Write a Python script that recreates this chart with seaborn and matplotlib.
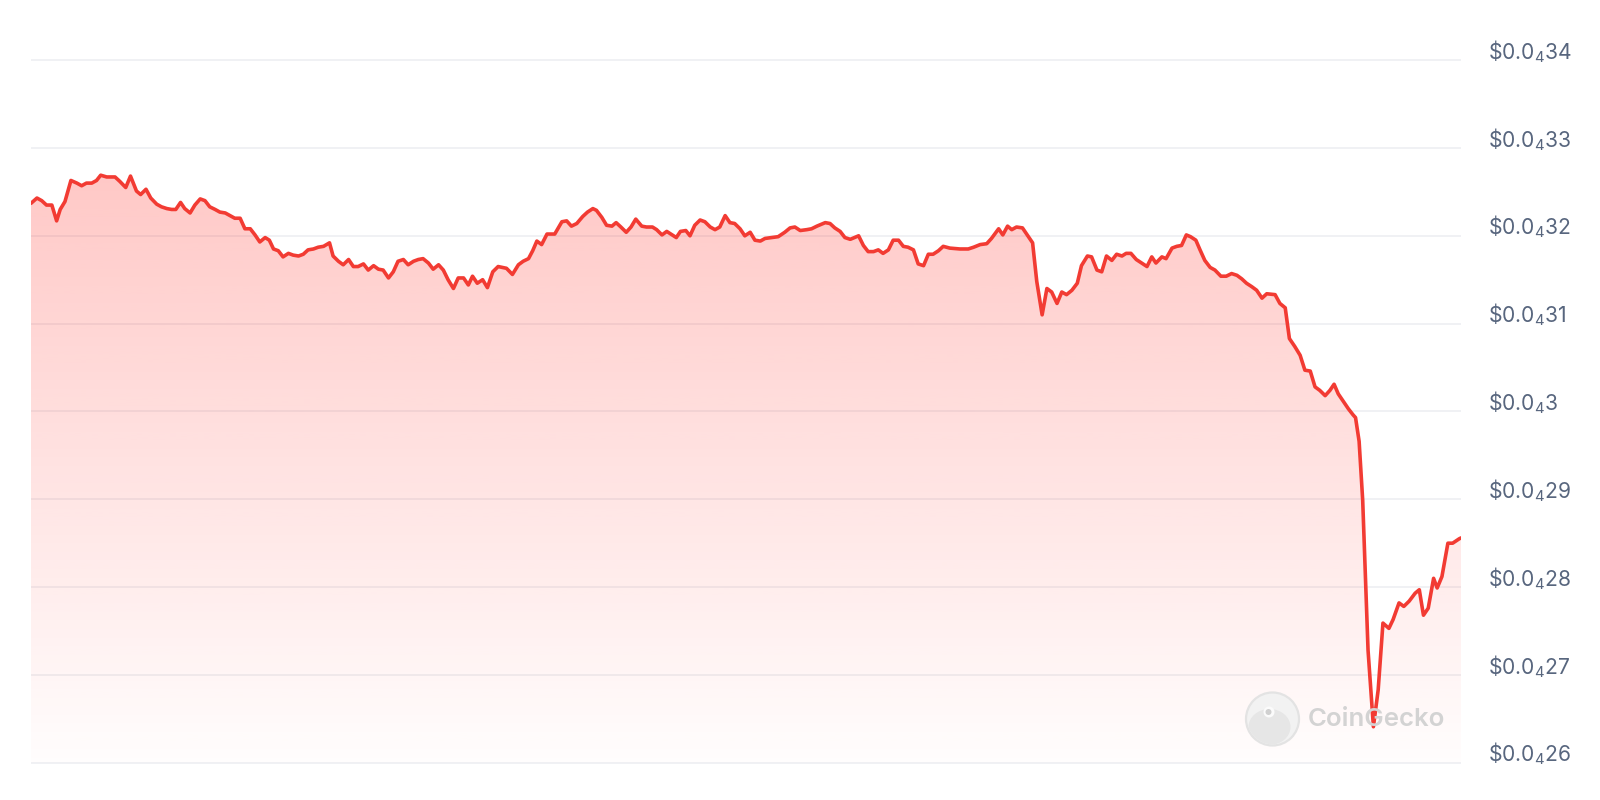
import numpy as np
import pandas as pd
import matplotlib
matplotlib.use("Agg")
import matplotlib.pyplot as plt
import matplotlib.transforms as mtransforms
from matplotlib.patches import PathPatch, Circle, Ellipse
import seaborn as sns

# ---------------- data ----------------
HOURS = [
    0.00, 0.10, 0.18, 0.26, 0.35, 0.43, 0.49, 0.57, 0.67, 0.77, 0.85, 0.93, 1.02, 1.10, 1.17, 1.27,
    1.41, 1.49, 1.59, 1.67, 1.77, 1.84, 1.93, 2.01, 2.11, 2.19, 2.28, 2.36, 2.43, 2.51, 2.58, 2.67,
    2.75, 2.84, 2.92, 3.00, 3.09, 3.17, 3.26, 3.34, 3.42, 3.51, 3.59, 3.68, 3.76, 3.84, 3.93, 4.00,
    4.07, 4.15, 4.23, 4.32, 4.40, 4.49, 4.57, 4.65, 4.74, 4.82, 4.91, 5.01, 5.07, 5.16, 5.24, 5.33,
    5.41, 5.49, 5.58, 5.66, 5.75, 5.83, 5.91, 6.00, 6.08, 6.16, 6.25, 6.33, 6.42, 6.50, 6.58, 6.67,
    6.75, 6.84, 6.92, 7.00, 7.09, 7.17, 7.26, 7.34, 7.41, 7.49, 7.58, 7.66, 7.75, 7.84,
    7.98, 8.08, 8.18, 8.26, 8.35, 8.42, 8.49, 8.57, 8.66, 8.79, 8.91, 8.99, 9.07, 9.16, 9.26, 9.34,
    9.43, 9.49, 9.58, 9.66, 9.75, 9.82, 9.90, 9.99, 10.07, 10.15, 10.25, 10.33, 10.43, 10.50, 10.59,
    10.67, 10.74, 10.83, 10.90, 10.99, 11.06, 11.14, 11.23, 11.31, 11.40, 11.48, 11.56, 11.65, 11.73,
    11.81, 11.90, 11.98, 12.07, 12.15, 12.24, 12.32, 12.43, 12.54, 12.65, 12.74, 12.82, 12.91, 13.02,
    13.10, 13.19, 13.33, 13.41, 13.49, 13.58, 13.66, 13.75, 13.89, 13.97, 14.05, 14.14, 14.22, 14.30,
    14.39, 14.47, 14.56, 14.64, 14.72, 14.81, 14.89, 14.98, 15.06, 15.14, 15.23, 15.31, 15.42, 15.59,
    15.73, 15.82, 15.93, 16.04, 16.12, 16.24, 16.31, 16.39, 16.46, 16.54,
    16.64, 16.72, 16.81, 16.88, 16.97, 17.05, 17.13, 17.22, 17.30, 17.38, 17.47, 17.56, 17.63, 17.73,
    17.80, 17.89, 17.97, 18.05, 18.14, 18.22, 18.31, 18.38, 18.46, 18.55, 18.64, 18.73, 18.81, 18.88,
    18.98, 19.05, 19.15, 19.23, 19.31, 19.39, 19.46, 19.55, 19.62, 19.70, 19.79, 19.87, 19.97, 20.06,
    20.15, 20.24, 20.32, 20.40, 20.49, 20.57, 20.66, 20.74, 20.88, 20.96, 21.05, 21.12, 21.21, 21.30,
    21.38, 21.47, 21.55, 21.63, 21.72, 21.80, 21.87, 21.94, 22.02, 22.11, 22.19, 22.23, 22.29, 22.35,
    22.39, 22.44, 22.53, 22.61, 22.69, 22.79, 22.86, 22.96, 23.04, 23.13, 23.23, 23.30, 23.37, 23.45,
    23.54, 23.60, 23.68, 23.78, 23.86, 23.97, 24.00,
]

# price in millionths of a dollar (x 1e-6 USD)
PRICE_E6 = [
    32.37, 32.43, 32.40, 32.35, 32.35, 32.17, 32.30, 32.39, 32.63, 32.60, 32.57, 32.60, 32.60, 32.63, 32.69, 32.67,
    32.67, 32.62, 32.55, 32.68, 32.51, 32.47, 32.53, 32.43, 32.36, 32.33, 32.31, 32.30, 32.30, 32.38, 32.31, 32.26,
    32.35, 32.42, 32.40, 32.33, 32.30, 32.27, 32.26, 32.23, 32.20, 32.20, 32.08, 32.08, 32.01, 31.93, 31.98, 31.95,
    31.85, 31.83, 31.76, 31.80, 31.78, 31.77, 31.79, 31.84, 31.85, 31.87, 31.88, 31.92, 31.77, 31.71, 31.67, 31.73,
    31.65, 31.65, 31.68, 31.61, 31.66, 31.62, 31.61, 31.52, 31.59, 31.71, 31.73, 31.67, 31.71, 31.73, 31.74, 31.69,
    31.62, 31.67, 31.61, 31.50, 31.40, 31.52, 31.52, 31.44, 31.54, 31.46, 31.50, 31.41, 31.59, 31.65,
    31.63, 31.56, 31.67, 31.71, 31.74, 31.83, 31.94, 31.90, 32.02, 32.02, 32.16, 32.17, 32.11, 32.14, 32.22, 32.27,
    32.31, 32.29, 32.21, 32.12, 32.11, 32.15, 32.10, 32.04, 32.10, 32.19, 32.11, 32.10, 32.10, 32.07, 32.01,
    32.05, 32.02, 31.98, 32.05, 32.06, 32.00, 32.12, 32.18, 32.16, 32.10, 32.07, 32.10, 32.23, 32.15,
    32.14, 32.08, 32.00, 32.04, 31.95, 31.94, 31.97, 31.98, 31.99, 32.04, 32.09, 32.10, 32.06, 32.07,
    32.08, 32.11, 32.15, 32.14, 32.09, 32.05, 31.98, 31.96, 32.00, 31.89, 31.82, 31.82, 31.84, 31.80,
    31.84, 31.95, 31.95, 31.88, 31.87, 31.84, 31.68, 31.66, 31.79, 31.79, 31.83, 31.88, 31.86, 31.85,
    31.85, 31.87, 31.90, 31.91, 31.97, 32.08, 32.01, 32.11, 32.07, 32.10,
    32.09, 32.01, 31.92, 31.48, 31.10, 31.40, 31.36, 31.23, 31.36, 31.33, 31.38, 31.46, 31.66, 31.77,
    31.76, 31.61, 31.59, 31.77, 31.72, 31.79, 31.77, 31.80, 31.80, 31.73, 31.69, 31.65, 31.76, 31.69,
    31.76, 31.74, 31.86, 31.88, 31.89, 32.01, 31.99, 31.95, 31.84, 31.72, 31.64, 31.61, 31.54, 31.54,
    31.57, 31.55, 31.51, 31.46, 31.42, 31.38, 31.29, 31.34, 31.33, 31.23, 31.18, 30.83, 30.74, 30.64,
    30.47, 30.46, 30.28, 30.24, 30.18, 30.24, 30.31, 30.20, 30.12, 30.03, 29.96, 29.93, 29.66, 28.99,
    28.23, 27.28, 26.41, 26.83, 27.59, 27.53, 27.63, 27.82, 27.78, 27.84, 27.93, 27.97, 27.68, 27.76,
    28.10, 27.99, 28.12, 28.50, 28.50, 28.55, 28.56,
]

TICK_VALUES_E6 = [26, 27, 28, 29, 30, 31, 32, 33, 34]
# "$0.0" + subscript 4 (four zeros) + significant digits
TICK_PREFIX = r"\$0.0$_{4}$"
TICK_DIGITS = ["26", "27", "28", "29", "3", "31", "32", "33", "34"]
WATERMARK = "CoinGecko"

# ---------------- styling ----------------
sns.set_theme(style="white")
plt.rcParams["font.family"] = ["Inter", "DejaVu Sans"]
plt.rcParams["mathtext.fontset"] = "custom"
plt.rcParams["mathtext.rm"] = "Inter"
plt.rcParams["mathtext.it"] = "Inter"
plt.rcParams["mathtext.bf"] = "Inter:bold"
plt.rcParams["mathtext.sf"] = "Inter"

LINE_COLOR = "#f23b33"
GRID_COLOR = "#eff0f3"
LABEL_COLOR = "#58667e"

df = pd.DataFrame({"hours": HOURS, "price": np.array(PRICE_E6) * 1e-6})
ticks = np.array(TICK_VALUES_E6) * 1e-6
tick_labels = [TICK_PREFIX + d for d in TICK_DIGITS]

W, H = 1600, 800
fig = plt.figure(figsize=(16, 8), dpi=100)
fig.patch.set_facecolor("white")

# axes placed in pixel terms
y_top_px, y_bot_px = 58.4, 764.5          # 34.02 and 25.98 levels
x_left_px, x_right_px = 31, 1461
ax = fig.add_axes([x_left_px / W, (H - y_bot_px) / H,
                   (x_right_px - x_left_px) / W, (y_bot_px - y_top_px) / H])
ax.set_facecolor("white")
ymin, ymax = 25.98e-6, 34.02e-6
ax.set_xlim(0, 24)
ax.set_ylim(ymin, ymax)

# grid
ax.set_yticks(ticks)
ax.set_axisbelow(True)
ax.grid(axis="y", color=GRID_COLOR, linewidth=1.3)
ax.grid(axis="x", visible=False)
ax.tick_params(left=False, right=False, bottom=False, labelleft=False, labelbottom=False)
for s in ax.spines.values():
    s.set_visible(False)

# gradient fill under the line
base = ticks[0]
poly = ax.fill_between(df["hours"], df["price"], base, color="none", linewidth=0)
path = poly.get_paths()[0]
clip = PathPatch(path, transform=ax.transData, facecolor="none", edgecolor="none")
ax.add_patch(clip)
n = 256
t = np.linspace(0, 1, n)  # 0 at bottom, 1 at top
rgba = np.zeros((n, 1, 4))
rgba[..., 0] = 1.0
rgba[..., 1] = 58 / 255
rgba[..., 2] = 51 / 255
rgba[..., 3] = (0.01 + 0.32 * t)[:, None]
im = ax.imshow(rgba, extent=[0, 24, base, ticks[-1]], origin="lower",
               aspect="auto", interpolation="bilinear", zorder=1)
im.set_clip_path(clip)

# watermark (between fill and line)
inch = fig.dpi_scale_trans
cx, cy, r = 1272.5 / 100, (H - 719) / 100, 0.265
fig.add_artist(Circle((cx, cy), r, transform=inch, facecolor="#f2f2f2",
                      edgecolor="#e3e3e3", linewidth=1.6, zorder=2))
head = Ellipse((cx - 0.03, cy - 0.08), 0.42, 0.36, transform=inch,
               facecolor="#e6e6e6", edgecolor="none", zorder=2)
fig.add_artist(head)
head.set_clip_path(Circle((cx, cy), r - 0.012, transform=inch))
fig.add_artist(Circle((cx - 0.035, cy + 0.07), 0.055, transform=inch,
                      facecolor="#fbfbfb", edgecolor="none", zorder=2))
fig.add_artist(Circle((cx - 0.04, cy + 0.07), 0.03, transform=inch,
                      facecolor="#d0d0d0", edgecolor="none", zorder=2))
fig.text(1308 / W, (H - 726) / H, WATERMARK, fontsize=18.6, color="#d3d3d3",
         fontweight="semibold", ha="left", va="baseline", zorder=2)

# the price line (seaborn)
sns.lineplot(data=df, x="hours", y="price", ax=ax, color=LINE_COLOR,
             linewidth=2.6, zorder=5)
ax.lines[-1].set_zorder(5)
ax.lines[-1].set_solid_joinstyle("round")
ax.set_xlabel("")
ax.set_ylabel("")
ax.set_xlim(0, 24)
ax.set_ylim(ymin, ymax)

# right-hand labels, baseline just above each gridline
trans = mtransforms.blended_transform_factory(ax.transAxes, ax.transData)
trans = mtransforms.offset_copy(trans, fig=fig, x=0, y=1, units="dots")
x_lab = (1488 - x_left_px) / (x_right_px - x_left_px)
for v, lab in zip(ticks, tick_labels):
    ax.text(x_lab, v, lab, transform=trans, ha="left", va="baseline",
            fontsize=15.2, color=LABEL_COLOR, clip_on=False)

fig.savefig("out.png", dpi=100, facecolor="white")
